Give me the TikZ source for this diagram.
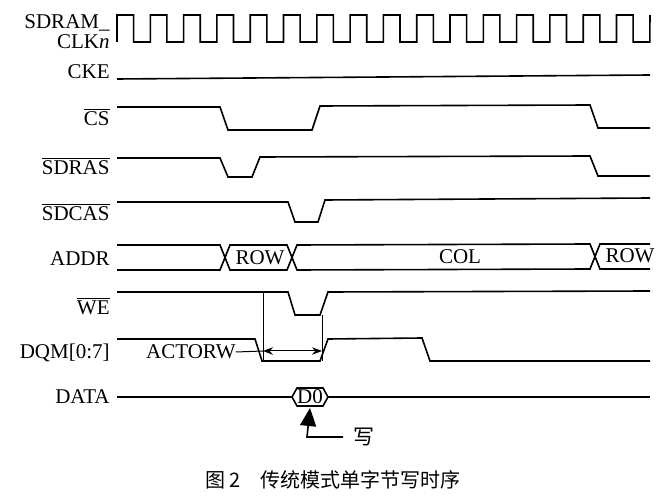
\documentclass[tikz,border=0pt]{standalone}
\usepackage{fontspec}
\setmainfont{Liberation Serif}
\newfontfamily\cjk{Noto Sans CJK SC}
\usetikzlibrary{arrows.meta}
\begin{document}
\begin{tikzpicture}[x=0.5pt,y=-0.5pt,
  sig/.style={line width=0.8pt},
  lab/.style={anchor=east,inner sep=0pt,font=\fontsize{10.5}{10}\selectfont},
  txt/.style={inner sep=0pt,font=\fontsize{10.5}{10}\selectfont}]
\useasboundingbox (0,0) rectangle (665,497);
% labels
\node[lab,align=right] (lclk) at (110,32) {SDRAM\_\\CLK\textit{n}};
\node[lab] (lcke) at (110,72) {CKE};
\node[lab] (lcs) at (110,117) {$\overline{\mbox{CS}}$};
\node[lab] (lras) at (110,166) {$\overline{\mbox{SDRAS}}$};
\node[lab] (lcas) at (110,212) {$\overline{\mbox{SDCAS}}$};
\node[lab] (laddr) at (110,259) {ADDR};
\node[lab] (lwe) at (110,306) {$\overline{\mbox{WE}}$};
\node[lab] (ldqm) at (110,353) {DQM[0:7]};
\node[lab] (ldata) at (110,397) {DATA};
% clock
\draw[sig] (117,42) foreach \i in {0,...,15} {
  -- ({117+\i*33.3},15) -- ({117+\i*33.3+16.6},15) -- ({117+\i*33.3+16.6},42) -- ({117+\i*33.3+33.3},42)}
  -- (650,15);
% CKE
\draw[sig] (117,79) -- (650,75);
% CS
\draw[sig] (117,107) -- (220,107) -- (228,130) -- (312,130) -- (320,106) -- (590,105) -- (598,128) -- (650,128);
% SDRAS
\draw[sig] (117,158) -- (220,158) -- (228,177) -- (252,177) -- (260,157) -- (590,156) -- (598,176) -- (650,176);
% SDCAS
\draw[sig] (117,202) -- (288,202) -- (295,222) -- (318,222) -- (325,200) -- (650,198);
% ADDR
\draw[sig] (117,245) -- (220,245) -- (230,270) -- (287,270) -- (297,245) -- (590,244) -- (600,269) -- (650,269);
\draw[sig] (117,270) -- (220,270) -- (230,245) -- (287,245) -- (297,270) -- (590,269) -- (600,244) -- (650,244);
\node[txt] (row1) at (260,258) {ROW};
\node[txt] (col) at (460,257) {COL};
\node[txt] (row2) at (630,256) {ROW};
% WE
\draw[sig] (117,292) -- (288,292) -- (295,315) -- (320,315) -- (328,292) -- (650,291);
% DQM
\draw[sig] (117,339) -- (255,339) -- (262,361) -- (320,361) -- (328,339) -- (422,338) -- (430,361) -- (650,361);
% ACTORW
\coordinate (va) at (263,351);
\coordinate (vb) at (322,351);
\draw[line width=0.5pt] (263,292) -- (263,361);
\draw[line width=0.5pt] (322,315) -- (322,361);
\draw[line width=0.5pt,{Stealth[length=5pt]}-{Stealth[length=5pt]}] (va) -- (vb);
\node[txt,anchor=east] (act) at (236,352) {ACTORW};
\draw[line width=0.5pt] (act.east) -- (va);
% DATA
\draw[sig] (117,397) -- (292,397);
\draw[sig] (328,397) -- (650,397);
\draw[sig] (292,397) -- (297,388) -- (323,388) -- (328,397) -- (323,406) -- (297,406) -- cycle;
\node[txt] (d0) at (310,397) {D0};
% write arrow
\node[txt,font=\cjk\fontsize{10.5}{10}\selectfont] (w) at (364,437) {写};
\draw[line width=0.8pt,-{Triangle[length=9pt,width=8pt]}] ([xshift=-5pt]w.west) -- (307,437) -- (d0.south |- 0,408);
% caption
\node[inner sep=0pt,font=\cjk\fontsize{10}{10}\selectfont] (cap) at (333,480) {图 2\quad 传统模式单字节写时序};
\end{tikzpicture}
\end{document}
